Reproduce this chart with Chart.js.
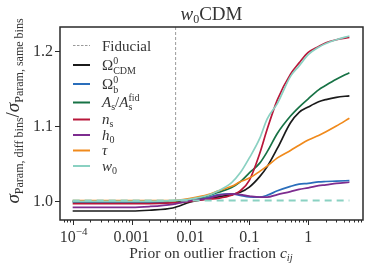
<!DOCTYPE html>
<html>
<head>
<meta charset="utf-8">
<script src="https://cdn.jsdelivr.net/npm/chart.js@4"></script>
<style>
  html, body { margin: 0; padding: 0; background: #fff; }
  canvas { display: block; }
</style>
</head>
<body>
<canvas id="chart" width="374" height="273"></canvas>
<script>
// prior on outlier fraction c_ij (x values)
const xValues = [1e-4, 2e-4, 5e-4, 1e-3, 2e-3, 5e-3, 0.01, 0.02, 0.03, 0.05, 0.07, 0.1, 0.15, 0.2, 0.3, 0.5, 0.7, 1, 1.5, 2, 3, 5];

// ratio sigma(diff bins) / sigma(same bins) per parameter
const omegaCdm = [0.986, 0.986, 0.986, 0.986, 0.987, 0.990, 0.998, 1.003, 1.005, 1.008, 1.011, 1.018, 1.032, 1.045, 1.070, 1.104, 1.118, 1.125, 1.132, 1.135, 1.138, 1.140];
const omegaB = [0.998, 0.998, 0.998, 0.998, 0.998, 0.998, 1.000, 1.004, 1.008, 1.009, 1.007, 1.005, 1.0045, 1.007, 1.013, 1.019, 1.022, 1.023, 1.025, 1.0255, 1.026, 1.0267];
const asRatio = [0.999, 0.999, 0.999, 0.999, 0.999, 0.999, 1.001, 1.0065, 1.011, 1.0175, 1.025, 1.037, 1.050, 1.065, 1.090, 1.113, 1.125, 1.136, 1.148, 1.154, 1.162, 1.171];
const nS = [0.996, 0.996, 0.996, 0.996, 0.996, 0.997, 0.999, 1.002, 1.003, 1.007, 1.013, 1.027, 1.063, 1.095, 1.135, 1.169, 1.184, 1.198, 1.206, 1.211, 1.215, 1.218];
const h0 = [0.991, 0.991, 0.991, 0.991, 0.992, 0.995, 1.000, 1.003, 1.007, 1.009, 1.008, 1.006, 1.0045, 1.0045, 1.008, 1.012, 1.015, 1.017, 1.020, 1.021, 1.023, 1.0245];
const tau = [1.000, 1.000, 1.000, 1.000, 1.000, 1.000, 1.003, 1.008, 1.013, 1.019, 1.025, 1.030, 1.039, 1.046, 1.057, 1.067, 1.074, 1.081, 1.087, 1.092, 1.0996, 1.110];
const w0 = [0.999, 0.999, 0.999, 0.999, 0.999, 1.000, 1.002, 1.007, 1.013, 1.024, 1.037, 1.057, 1.083, 1.109, 1.130, 1.166, 1.180, 1.195, 1.205, 1.210, 1.215, 1.220];

// reference lines
const fiducialPrior = 0.0056;
const sameBinsLevel = 1.0;

// axis ticks
const xTickValues = [1e-4, 1e-3, 1e-2, 1e-1, 1];
const xTickLabels = ["10", "0.001", "0.01", "0.1", "1"];
const yTickValues = [1.0, 1.1, 1.2];
const yTickLabels = ["1.0", "1.1", "1.2"];

const xMin = Math.pow(10, -4.215), xMax = Math.pow(10, 0.93);
const yMin = 0.974, yMax = 1.232;

const SERIF = '"Liberation Serif", "DejaVu Serif", serif';

// series: values and colour, legend text below
const series = [
    {key: "cdm", values: omegaCdm, color: "#1b1b1b"},
    {key: "b", values: omegaB, color: "#2a6ebb"},
    {key: "as", values: asRatio, color: "#177245"},
    {key: "ns", values: nS, color: "#b8173a"},
    {key: "h0", values: h0, color: "#7d2c8f"},
    {key: "tau", values: tau, color: "#f08a1c"},
    {key: "w0", values: w0, color: "#8ad1c2"}
];

// legend labels as rich text parts
const legendParts = {
    cdm: [{t: "Ω", s: 15}, {t: "0", s: 10, dy: -6}, {t: "CDM", s: 10, dy: 4, over: true}],
    b: [{t: "Ω", s: 15}, {t: "0", s: 10, dy: -6}, {t: "b", s: 10, dy: 4, over: true}],
    as: [{t: "A", s: 15, it: true}, {t: "s", s: 10, dy: 3}, {t: "/", s: 15}, {t: "A", s: 15, it: true}, {t: "fid", s: 10, dy: -6}, {t: "s", s: 10, dy: 3, over: true}],
    ns: [{t: "n", s: 15, it: true}, {t: "s", s: 10, dy: 3}],
    h0: [{t: "h", s: 15, it: true}, {t: "0", s: 10, dy: 3}],
    tau: [{t: "τ", s: 15, it: true}],
    w0: [{t: "w", s: 15, it: true}, {t: "0", s: 10, dy: 3}]
};

function fontFor(p) {
    return (p.it ? "italic " : "") + p.s + "px " + SERIF;
}

function richWidth(ctx, parts) {
    let w = 0, lastStart = 0, lastW = 0;
    parts.forEach(p => {
        ctx.font = fontFor(p);
        const pw = ctx.measureText(p.t).width;
        if (p.over) {
            w = lastStart + Math.max(lastW, pw);
        } else {
            lastStart = w;
            lastW = pw;
            w += pw;
        }
    });
    return w;
}

function drawRich(ctx, parts, x, y, align) {
    let start = x;
    if (align === "center") start = x - richWidth(ctx, parts) / 2;
    if (align === "right") start = x - richWidth(ctx, parts);
    let cx = start, lastStart = start, lastW = 0;
    ctx.textAlign = "left";
    ctx.textBaseline = "alphabetic";
    parts.forEach(p => {
        ctx.font = fontFor(p);
        const pw = ctx.measureText(p.t).width;
        if (p.over) {
            ctx.fillText(p.t, lastStart, y + (p.dy || 0));
            cx = lastStart + Math.max(lastW, pw);
        } else {
            ctx.fillText(p.t, cx, y + (p.dy || 0));
            lastStart = cx;
            lastW = pw;
            cx += pw;
        }
    });
}

const decorPlugin = {
    id: "decor",
    afterDraw(chart) {
        const ctx = chart.ctx;
        const area = chart.chartArea;
        const xs = chart.scales.x, ys = chart.scales.y;
        ctx.save();
        ctx.fillStyle = "#2a2a2a";
        ctx.strokeStyle = "#2a2a2a";

        // frame
        ctx.lineWidth = 1.5;
        ctx.strokeRect(area.left, area.top, area.right - area.left, area.bottom - area.top);

        // x ticks (major + minor)
        ctx.lineWidth = 1;
        for (let e = -5; e <= 1; e++) {
            for (let m = 1; m <= 9; m++) {
                const v = m * Math.pow(10, e);
                if (v < xMin || v > xMax) continue;
                const px = Math.round(xs.getPixelForValue(v)) + 0.5;
                const len = m === 1 ? 5 : 2.5;
                ctx.beginPath();
                ctx.moveTo(px, area.bottom);
                ctx.lineTo(px, area.bottom + len);
                ctx.stroke();
            }
        }
        // y ticks
        yTickValues.forEach(v => {
            const py = Math.round(ys.getPixelForValue(v)) + 0.5;
            ctx.beginPath();
            ctx.moveTo(area.left, py);
            ctx.lineTo(area.left - 5, py);
            ctx.stroke();
        });

        // tick labels
        ctx.fillStyle = "#333";
        xTickValues.forEach((v, i) => {
            const px = xs.getPixelForValue(v);
            if (i === 0) {
                drawRich(ctx, [{t: "10", s: 16}, {t: "−4", s: 11, dy: -7}], px + 1, 241.5, "center");
            } else {
                drawRich(ctx, [{t: xTickLabels[i], s: 16}], px, 241.5, "center");
            }
        });
        yTickValues.forEach((v, i) => {
            const py = ys.getPixelForValue(v);
            drawRich(ctx, [{t: yTickLabels[i], s: 16}], 53, py + 5.5, "right");
        });

        // title
        drawRich(ctx, [{t: "w", s: 19, it: true}, {t: "0", s: 12, dy: 3}, {t: "CDM", s: 19}], (area.left + area.right) / 2, 20, "center");

        // x label
        drawRich(ctx, [{t: "Prior on outlier fraction ", s: 15.5}, {t: "c", s: 15.5, it: true}, {t: "ij", s: 10.5, it: true, dy: 3}], 211, 258, "center");

        // y label (rotated)
        ctx.save();
        ctx.translate(19, 111);
        ctx.rotate(-Math.PI / 2);
        drawRich(ctx, [
            {t: "σ", s: 19, it: true}, {t: "Param, diff bins", s: 12, dy: 4},
            {t: "/", s: 19},
            {t: "σ", s: 19, it: true}, {t: "Param, same bins", s: 12, dy: 4}
        ], 0, 0, "center");
        ctx.restore();

        // legend
        const lx0 = 73, lx1 = 90, tx = 102;
        ctx.lineWidth = 1;
        ctx.strokeStyle = "#999";
        ctx.setLineDash([2.5, 1.5]);
        ctx.beginPath();
        ctx.moveTo(lx0, 45.5);
        ctx.lineTo(lx1, 45.5);
        ctx.stroke();
        ctx.setLineDash([]);
        ctx.fillStyle = "#333";
        drawRich(ctx, [{t: "Fiducial", s: 15}], tx, 50.5, "left");
        const rowsY = [65, 84, 102.5, 119.5, 135, 150.5, 166];
        series.forEach((s, i) => {
            ctx.strokeStyle = s.color;
            ctx.lineWidth = 2;
            ctx.beginPath();
            ctx.moveTo(lx0, rowsY[i]);
            ctx.lineTo(lx1, rowsY[i]);
            ctx.stroke();
            ctx.fillStyle = "#333";
            drawRich(ctx, legendParts[s.key], tx, rowsY[i] + 4.5, "left");
        });
        ctx.restore();
    }
};

const datasets = series.map((s, i) => ({
    data: xValues.map((x, j) => ({x: x, y: s.values[j]})),
    borderColor: s.color,
    borderWidth: 1.7,
    pointRadius: 0,
    cubicInterpolationMode: "monotone",
    fill: false,
    order: series.length - i + 1
}));

// horizontal same-bins reference (teal dashed) and fiducial prior (grey dashed)
datasets.push({
    data: [{x: xValues[0], y: sameBinsLevel}, {x: xValues[xValues.length - 1], y: sameBinsLevel}],
    borderColor: "#8ad1c2",
    borderWidth: 2,
    borderDash: [7, 5],
    pointRadius: 0,
    fill: false,
    order: 0
});
datasets.push({
    data: [{x: fiducialPrior, y: yMin}, {x: fiducialPrior, y: yMax}],
    borderColor: "#9a9a9a",
    borderWidth: 1,
    borderDash: [3, 2],
    pointRadius: 0,
    fill: false,
    order: 20
});

new Chart(document.getElementById("chart"), {
    type: "line",
    data: {datasets: datasets},
    options: {
        responsive: false,
        animation: false,
        devicePixelRatio: 1,
        layout: {padding: {left: 60, right: 11, top: 27, bottom: 53}},
        plugins: {legend: {display: false}, tooltip: {enabled: false}},
        scales: {
            x: {type: "logarithmic", min: xMin, max: xMax, display: false},
            y: {type: "linear", min: yMin, max: yMax, display: false}
        }
    },
    plugins: [decorPlugin]
});
</script>
</body>
</html>
